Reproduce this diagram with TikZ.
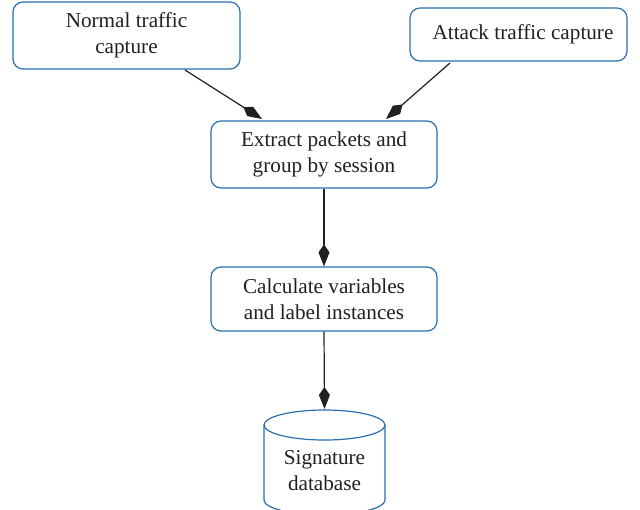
\documentclass[tikz,border=0pt]{standalone}
\usepackage{fontspec}
\setmainfont{Liberation Serif}
\usetikzlibrary{arrows.meta}
\definecolor{boxblue}{HTML}{2A6FAE}
\definecolor{textgray}{HTML}{231F20}
\begin{document}
\begin{tikzpicture}[x=0.5pt,y=-0.5pt,
  every node/.style={font=\fontsize{10.6}{13}\selectfont, text=textgray, align=center, inner sep=0pt},
  procbox/.style={draw=boxblue, line width=0.6pt, rounded corners=5pt},
  storeline/.style={draw=boxblue, line width=0.6pt},
  flow/.style={draw=textgray, line width=0.6pt, -{Kite[length=11pt,width=5.5pt,inset=4pt]}}]
  \useasboundingbox (0,0) rectangle (640,509);
  % process boxes
  \node[procbox, minimum width=113.5pt, minimum height=33.5pt] (normal) at (126.5,35.5) {Normal traffic\\capture};
  \node[procbox, minimum width=108.5pt, minimum height=26.5pt] (attack) at (518.5,34.5) {\hspace*{4.5pt}Attack traffic capture};
  \node[procbox, minimum width=113pt, minimum height=33.5pt] (extract) at (324,154.5) {Extract packets and\\group by session};
  \node[procbox, minimum width=113pt, minimum height=32pt] (calc) at (324,299) {Calculate variables\\and label instances};
  % storage cylinder
  \draw[storeline] (324.5,425) ellipse [x radius=30.25pt, y radius=7.5pt];
  \draw[storeline] (264,425) -- (264,500)
    arc[start angle=180, end angle=360, x radius=30.25pt, y radius=7.5pt] -- (385,425);
  \coordinate (dbtop) at (324.5,409);
  \node (db) at (324.5,471) {Signature\\database};
  % connectors
  \coordinate (n1) at (185,70);
  \coordinate (e1) at (262,119);
  \coordinate (a1) at (450,63);
  \coordinate (e2) at (386,119);
  \draw[flow] (n1) -- (e1);
  \draw[flow] (a1) -- (e2);
  \draw[flow] (extract.south) -- (calc.north);
  \draw[flow] (calc.south) -- (dbtop);
\end{tikzpicture}
\end{document}
